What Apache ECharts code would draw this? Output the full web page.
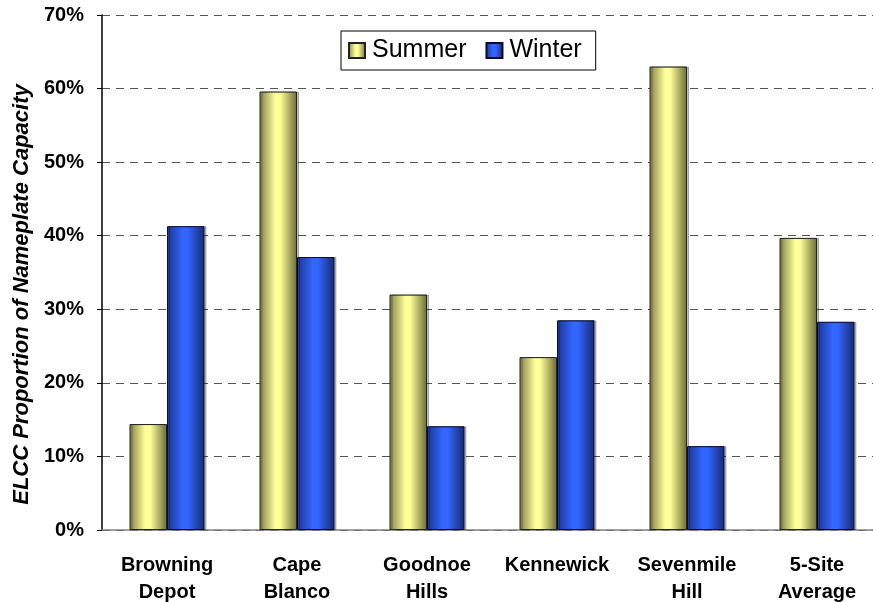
<!DOCTYPE html>
<html>
<head>
<meta charset="utf-8">
<script src="https://cdn.jsdelivr.net/npm/echarts@6/dist/echarts.min.js"></script>
<style>
  html, body { margin: 0; padding: 0; background: #fff; }
  #chart { width: 873px; height: 602px; }
</style>
</head>
<body>
<div id="chart"></div>
<script>
// sites along the x axis
const categories = ['Browning\nDepot', 'Cape\nBlanco', 'Goodnoe\nHills', 'Kennewick', 'Sevenmile\nHill', '5-Site\nAverage'];
// ELCC as % of nameplate capacity
const summer = [14.4, 59.6, 32.0, 23.5, 63.0, 39.7];
const winter = [41.3, 37.1, 14.1, 28.5, 11.4, 28.3];
const yTicks = [0, 10, 20, 30, 40, 50, 60, 70];

const font = 'Arial, "Liberation Sans", sans-serif';

// cylinder-ish shading like the old excel bars
function shade(edgeL, mid, edgeR) {
    return new echarts.graphic.LinearGradient(0, 0, 1, 0, [
        { offset: 0, color: edgeL },
        { offset: 0.42, color: mid },
        { offset: 0.55, color: mid },
        { offset: 1, color: edgeR },
    ]);
}

const chart = echarts.init(document.getElementById('chart'));

const option = {
    backgroundColor: '#fff',
    animation: false,
    // plot runs past the right edge of the picture, like the cropped original
    grid: { left: 102, top: 15, width: 780, height: 515, outerBoundsMode: 'none', containLabel: false },
    legend: {
        left: 341,
        top: 31,
        data: ['Summer', 'Winter'],
        orient: 'horizontal',
        borderColor: '#000',
        borderWidth: 1,
        padding: [7, 14, 7, 7],
        itemWidth: 16,
        itemHeight: 15,
        itemGap: 19,
        icon: 'rect',
        textStyle: { fontFamily: font, fontSize: 25, color: '#000', padding: [0, 0, 0, 2] },
    },
    xAxis: {
        type: 'category',
        data: categories,
        axisLine: { lineStyle: { color: '#808080', width: 1.5 } },
        axisTick: { show: false },
        axisLabel: {
            interval: 0,
            margin: 22,
            fontFamily: font,
            fontSize: 20,
            fontWeight: 'bold',
            lineHeight: 27,
            color: '#000',
        },
    },
    yAxis: {
        type: 'value',
        min: yTicks[0],
        max: yTicks[yTicks.length - 1],
        interval: 10,
        name: 'ELCC Proportion of Nameplate Capacity',
        nameLocation: 'middle',
        nameGap: 68,
        nameTextStyle: {
            fontFamily: font,
            fontSize: 22,
            fontWeight: 'bold',
            fontStyle: 'italic',
            color: '#000',
            padding: [0, 44, 0, 0],
        },
        axisLine: { show: true, lineStyle: { color: '#000', width: 1.5 } },
        axisTick: { show: true, length: 5, lineStyle: { color: '#000' } },
        axisLabel: {
            formatter: '{value}%',
            margin: 18,
            fontFamily: font,
            fontSize: 20,
            fontWeight: 'bold',
            color: '#000',
        },
        splitLine: {
            show: true,
            lineStyle: { color: '#555', width: 1.2, type: [8, 6] },
        },
    },
    series: [
        {
            name: 'Summer',
            type: 'bar',
            data: summer,
            barWidth: 37.5,
            barGap: '0%',
            itemStyle: {
                color: shade('#808048', '#ffff99', '#6a6a38'),
                borderColor: '#222',
                borderWidth: 1,
                shadowColor: 'rgba(0,0,0,0.25)',
                shadowOffsetX: 2,
            },
        },
        {
            name: 'Winter',
            type: 'bar',
            data: winter,
            barWidth: 37.5,
            itemStyle: {
                color: shade('#1b3590', '#3366ff', '#172a72'),
                borderColor: '#0a0a30',
                borderWidth: 1,
                shadowColor: 'rgba(0,0,0,0.25)',
                shadowOffsetX: 2,
            },
        },
    ],
};

chart.setOption(option);
</script>
</body>
</html>
